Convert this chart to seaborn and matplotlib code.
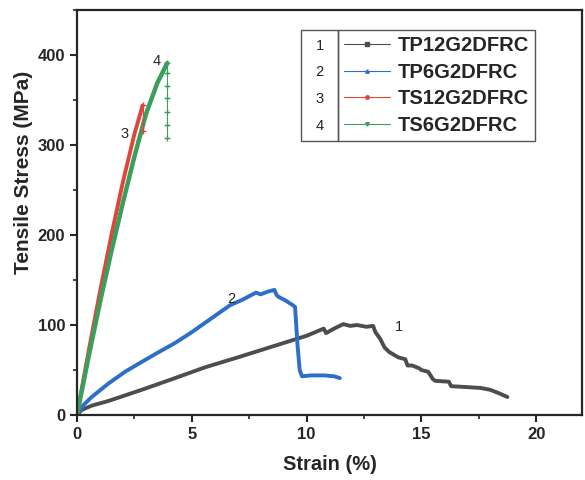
import matplotlib
matplotlib.use("Agg")
import matplotlib.pyplot as plt
from matplotlib.lines import Line2D
from matplotlib.patches import Rectangle
from matplotlib.ticker import MultipleLocator
import seaborn as sns

sns.set_style("ticks")
plt.rcParams['font.family'] = ['Liberation Sans', 'DejaVu Sans']

# curve data: strain (%) and tensile stress (MPa)
tp12_x = [0, 0.2, 0.64, 1.37, 2.82, 4.27, 5.58, 7, 8, 9, 10, 10.75, 10.85, 11.2, 11.6,
          11.9, 12.2, 12.6, 12.9, 13.0, 13.2, 13.4, 13.6, 13.8, 14.0, 14.3, 14.4, 14.6, 14.9,
          15.0, 15.3, 15.5, 15.6, 16.2, 16.3, 17.0, 17.6, 18.0, 18.4, 18.75]
tp12_y = [0, 5.6, 10.4, 15.6, 28, 41, 53, 64, 72, 80, 88, 96, 91, 96, 101,
          99, 100, 98, 99, 92, 85, 75, 70, 67, 64, 62, 55, 55, 52,
          50, 48, 40, 38, 37, 32, 31, 30, 28, 24, 20]

tp6_x = [0, 0.28, 0.64, 1.37, 2.09, 2.82, 3.5, 4.27, 5.0, 5.5, 6.0, 6.67, 7.2, 7.5, 7.8, 8.0,
         8.3, 8.6, 8.7, 8.8, 9.1, 9.4, 9.5, 9.6, 9.7, 9.8, 10.2, 10.8, 11.2, 11.45]
tp6_y = [0, 11, 20, 35, 48, 59, 69, 80, 92, 101, 110, 122, 128, 132, 136, 134,
         137, 139, 133, 131, 127, 122, 120, 80, 50, 43, 44, 44, 43, 41]

ts12_x = [0, 0.25, 0.5, 1.0, 1.5, 2.0, 2.5, 2.86]
ts12_y = [0, 35, 70, 137, 200, 259, 312, 344]
ts12_drop_x = [2.88, 2.88]
ts12_drop_y = [344, 316]

ts6_x = [0, 0.25, 0.5, 1.0, 1.5, 2.0, 2.5, 3.0, 3.5, 3.93]
ts6_y = [0, 32, 64, 125, 182, 236, 287, 334, 369, 391]
ts6_drop_x = [3.93, 3.93, 3.93, 3.93, 3.93, 3.93, 3.93]
ts6_drop_y = [391, 380, 366, 352, 337, 322, 308]

names = ['TP12G2DFRC', 'TP6G2DFRC', 'TS12G2DFRC', 'TS6G2DFRC']
colors = ['#4d4d4d', '#2d6ec8', '#e0453c', '#3b9e5c']
markers = ['s', '^', 'o', 'v']

fig, ax = plt.subplots(figsize=(5.85, 4.8), dpi=100)
fig.subplots_adjust(left=77/585, right=582/585, top=1-10/480, bottom=1-415/480)

sns.lineplot(x=tp12_x, y=tp12_y, sort=False, estimator=None, color=colors[0], lw=2.8, ax=ax)
sns.lineplot(x=tp6_x, y=tp6_y, sort=False, estimator=None, color=colors[1], lw=2.8, ax=ax)
sns.lineplot(x=ts12_x, y=ts12_y, sort=False, estimator=None, color=colors[2], lw=2.8, ax=ax)
sns.lineplot(x=ts6_x, y=ts6_y, sort=False, estimator=None, color=colors[3], lw=3.2, ax=ax)
ax.plot(ts12_drop_x, ts12_drop_y, color=colors[2], lw=0.8, marker='+', ms=4)
ax.plot(ts6_drop_x, ts6_drop_y, color=colors[3], lw=0.8, marker='+', ms=4)

# curve numbers
ax.text(13.86, 93, '1', fontsize=10.5)
ax.text(6.74, 129, '2', fontsize=10.5, ha='center', va='center')
ax.text(2.06, 312, '3', fontsize=10.5, ha='center', va='center')
ax.text(3.49, 393, '4', fontsize=10.5, ha='center', va='center')

ax.set_xlim(0, 22)
ax.set_ylim(0, 450)
ax.xaxis.set_major_locator(MultipleLocator(5))
ax.xaxis.set_minor_locator(MultipleLocator(2.5))
ax.yaxis.set_major_locator(MultipleLocator(100))
ax.yaxis.set_minor_locator(MultipleLocator(50))
ax.tick_params(which='major', length=5, width=1.5, labelsize=12)
ax.tick_params(which='minor', length=3, width=1.2)
for lab in ax.get_xticklabels() + ax.get_yticklabels():
    lab.set_fontweight('bold')
for s in ax.spines.values():
    s.set_linewidth(1.6)
    s.set_visible(True)
ax.set_xlabel('Strain (%)', fontsize=14.5, fontweight='bold')
ax.set_ylabel('Tensile Stress (MPa)', fontsize=15, fontweight='bold')
ax.xaxis.set_label_coords(0.5, -(465 - 415) / 405, transform=ax.transAxes)
ax.yaxis.set_label_coords(-(77 - 24) / 505, (415 - 172) / 405, transform=ax.transAxes)
ax.xaxis.label.set_va('center')
ax.yaxis.label.set_va('center')

handles = [Line2D([], [], color=c, lw=0.8, marker=m, ms=2.5) for c, m in zip(colors, markers)]
leg = ax.legend(handles, names, loc='upper left', bbox_to_anchor=((338-77)/505, (415-30)/405),
                borderaxespad=0, frameon=True, fancybox=False, framealpha=1,
                edgecolor='#555555', prop={'weight': 'bold', 'size': 14.5},
                handlelength=2.3, handletextpad=0.35, labelspacing=0.38, borderpad=0.3)
leg.get_frame().set_linewidth(1.0)

# numbers column at the left of the legend
fig.canvas.draw()
renderer = fig.canvas.get_renderer()
bb = leg.get_frame().get_window_extent(renderer)
inv = fig.transFigure.inverted()
x0, y0 = inv.transform((bb.x0 - 37, bb.y0))
x1, y1 = inv.transform((bb.x0, bb.y1))
fig.patches.append(Rectangle((x0, y0), x1 - x0, y1 - y0, transform=fig.transFigure,
                             fill=False, edgecolor='#555555', lw=1.0))
for i, t in enumerate(leg.get_texts()):
    tb = t.get_window_extent(renderer)
    yc = inv.transform((0, (tb.y0 + tb.y1) / 2))[1]
    fig.text((x0 + x1) / 2, yc, str(i + 1), fontsize=10.5, ha='center', va='center')

fig.savefig('out.png', dpi=100)
